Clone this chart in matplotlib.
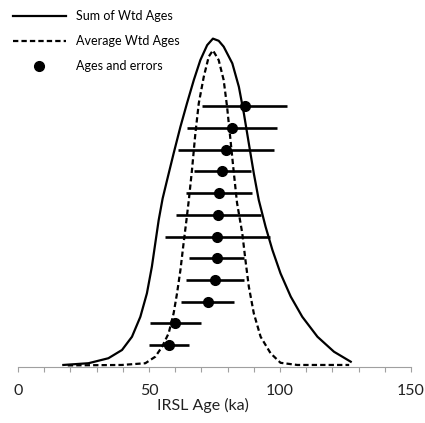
import matplotlib.pyplot as plt
from matplotlib.lines import Line2D

plt.rcParams['font.family'] = ['Lato', 'DejaVu Sans']

# curves: age (ka) and relative height
sum_age = [17.3, 26.9, 34.5, 39.7, 43.5, 46.7, 49.2, 51.1, 52.4, 53.7, 55.2, 56.9,
           59.4, 62.0, 64.5, 67.1, 69.6, 72.2, 74.4, 76.6, 78.5, 81.8, 84.3, 86.2,
           88.1, 90.0, 91.9, 94.5, 97.1, 100.2, 104.1, 108.5, 114.3, 120.6, 127.0]
sum_h = [0.08, 0.16, 0.39, 0.77, 1.38, 2.30, 3.38, 4.61, 5.69, 6.76, 7.75, 8.60,
         9.83, 11.06, 12.14, 13.21, 14.13, 14.82, 15.12, 15.02, 14.75, 13.98, 12.90,
         11.68, 10.29, 8.91, 7.68, 6.45, 5.38, 4.30, 3.23, 2.30, 1.38, 0.69, 0.23]

avg_age = [19.0, 39.7, 48.6, 52.4, 55.0, 57.5, 59.4, 60.7, 62.0, 63.2, 64.3, 65.2,
           66.4, 67.7, 69.0, 70.9, 72.8, 74.4, 76.6, 78.5, 79.8, 81.1, 82.4, 83.6,
           85.6, 86.8, 88.1, 90.0, 92.6, 96.4, 100.2, 106.6, 126.4]
avg_h = [0.06, 0.08, 0.16, 0.46, 0.92, 1.54, 2.46, 3.38, 4.46, 5.69, 6.76, 7.68,
         9.06, 10.75, 12.14, 13.36, 14.29, 14.58, 14.13, 13.21, 11.98, 10.45, 8.91,
         7.55, 6.15, 4.92, 3.69, 2.46, 1.38, 0.62, 0.18, 0.08, 0.08]

# individual ages and errors, top to bottom
ages = [86.5, 81.7, 79.4, 78.0, 76.9, 76.5, 76.1, 75.9, 75.2, 72.4, 60.1, 57.6]
errors = [16.3, 17.1, 18.3, 11.0, 12.6, 16.2, 19.9, 10.5, 11.0, 10.0, 9.6, 7.7]
rows = list(range(len(ages), 0, -1))

fig = plt.figure(figsize=(4.25, 4.23), dpi=100)
ax = fig.add_axes([18 / 425, 56.3 / 423, 393 / 425, 366.7 / 423])

ax.plot(sum_age, sum_h, color='black', lw=1.6, solid_joinstyle='round')
ax.plot(avg_age, avg_h, color='black', lw=1.6, linestyle=(0, (2.4, 1.4)))
ax.errorbar(ages, rows, xerr=errors, fmt='o', color='black', ms=7,
            elinewidth=1.9, capsize=0)

handles = [
    Line2D([], [], color='black', lw=1.6),
    Line2D([], [], color='black', lw=1.6, linestyle=(0, (2.4, 1.4))),
    Line2D([], [], color='black', marker='o', ms=7, lw=0),
]
ax.legend(handles, ['Sum of Wtd Ages', 'Average Wtd Ages', 'Ages and errors'],
          loc='upper left', bbox_to_anchor=(13 / 425, 1 - 10 / 423),
          bbox_transform=fig.transFigure, frameon=False, fontsize=9,
          handlelength=4.2, handletextpad=0.8, labelspacing=1.05,
          borderpad=0, borderaxespad=0)

ax.set_xlim(0, 150)
ax.set_ylim(0, 16.9)
ax.set_xticks([0, 50, 100, 150])
ax.set_xticks(range(0, 151, 10), minor=True)
ax.tick_params(axis='x', which='both', direction='out', length=3.6,
               color='#a0a0a0', width=0.8, labelsize=11.5, pad=9, labelcolor='#222222')
ax.set_yticks([])
for s in ['left', 'right', 'top']:
    ax.spines[s].set_visible(False)
ax.spines['bottom'].set_color('#a0a0a0')
ax.spines['bottom'].set_linewidth(0.8)
ax.set_xlabel('IRSL Age (ka)', fontsize=11.5, color='#222222', labelpad=0, x=0.471)

fig.savefig('out.png', dpi=100)
